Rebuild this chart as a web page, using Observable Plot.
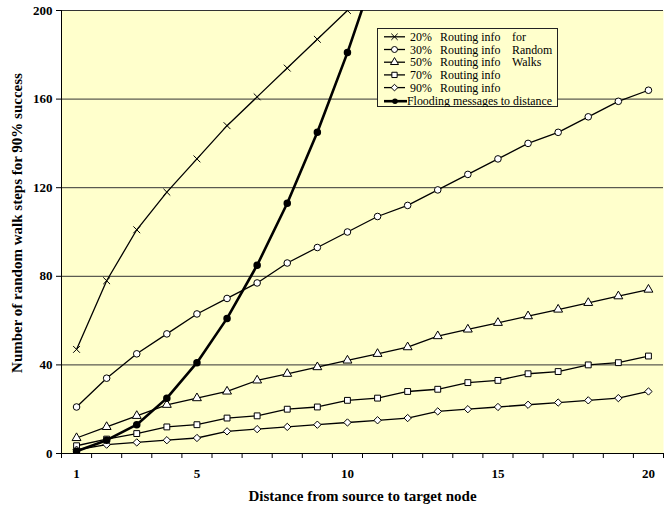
<!DOCTYPE html>
<html>
<head>
<meta charset="utf-8">
<script src="https://cdn.jsdelivr.net/npm/d3@7"></script>
<script src="https://cdn.jsdelivr.net/npm/@observablehq/plot@0.6"></script>
<style>
  body { margin: 0; background: #fff; }
  #wrap { position: relative; width: 665px; height: 506px; }
  #legend { position: absolute; left: 377px; top: 28px; }
</style>
</head>
<body>
<div id="wrap"></div>
<script>
// ---- data ----
const distances = d3.range(1, 21);
const routing20 = [47, 78, 101, 118, 133, 148, 161, 174, 187, 200];
const routing30 = [21, 34, 45, 54, 63, 70, 77, 86, 93, 100, 107, 112, 119, 126, 133, 140, 145, 152, 159, 164];
const routing50 = [7, 12, 17, 22, 25, 28, 33, 36, 39, 42, 45, 48, 53, 56, 59, 62, 65, 68, 71, 74];
const routing70 = [3.5, 6.5, 9, 12, 13, 16, 17, 20, 21, 24, 25, 28, 29, 32, 33, 36, 37, 40, 41, 44];
const routing90 = [1.7, 4, 5, 6, 7, 10, 11, 12, 13, 14, 15, 16, 19, 20, 21, 22, 23, 24, 25, 28];
const flooding = [1, 6, 13, 25, 41, 61, 85, 113, 145, 181, 221];

const yTicks = [0, 40, 80, 120, 160, 200];
const xTickLabels = [1, 5, 10, 15, 20];
const yTitle = "Number of random walk steps for 90% success";
const xTitle = "Distance from source to target node";
const legendPct = ["20%", "30%", "50%", "70%", "90%"];
const legendNote = ["for", "Random", "Walks", "", ""];
const legendFlood = "Flooding messages to distance";

const FONT = "'Liberation Serif', 'Times New Roman', serif";

const seriesDefs = [
  {values: routing20, symbol: "times"},
  {values: routing30, symbol: "circle"},
  {values: routing50, symbol: "triangle"},
  {values: routing70, symbol: "square"},
  {values: routing90, symbol: "diamond2"}
];
const toRows = vals => vals.map((v, i) => ({x: distances[i], y: v}));

const marks = [
  Plot.frame({fill: "#FFFFCC", stroke: null}),
  Plot.ruleY(yTicks.filter(d => d > 0), {stroke: "#333", strokeWidth: 1}),
  Plot.ruleX([0.5], {stroke: "#000"}),
  Plot.ruleY([0], {stroke: "#000"}),
  Plot.axisY({
    ticks: yTicks, tickSize: 5, tickPadding: 4,
    fontSize: 13, fontWeight: "bold", fontFamily: FONT, label: null
  }),
  Plot.text([yTitle], {
    frameAnchor: "left", textAnchor: "middle", rotate: -90, dx: -44, dy: -9,
    fontSize: 15, fontWeight: "bold", fontFamily: FONT, fill: "#000"
  }),
  Plot.axisX({ticks: d3.range(0.5, 21, 1), tickSize: 5, tickFormat: () => "", label: null}),
  Plot.axisX({
    ticks: xTickLabels, tickSize: 0, tickPadding: 15,
    fontSize: 13, fontWeight: "bold", fontFamily: FONT, label: null
  }),
  Plot.text([xTitle], {
    frameAnchor: "bottom", dy: 47,
    fontSize: 15, fontWeight: "bold", fontFamily: FONT, fill: "#000"
  })
];

for (const s of seriesDefs) {
  const rows = toRows(s.values);
  marks.push(Plot.line(rows, {x: "x", y: "y", stroke: "#000", strokeWidth: 1.3, clip: true}));
  marks.push(Plot.dot(rows, {
    x: "x", y: "y", symbol: s.symbol, r: s.symbol === "times" ? 3.2 : 3.3,
    fill: s.symbol === "times" ? "none" : "#fff", stroke: "#000", strokeWidth: 1, clip: true
  }));
}
const floodRows = toRows(flooding);
marks.push(Plot.line(floodRows, {x: "x", y: "y", stroke: "#000", strokeWidth: 2.6, clip: true}));
marks.push(Plot.dot(floodRows, {x: "x", y: "y", symbol: "circle", r: 3, fill: "#000", stroke: "#000", clip: true}));

const chart = Plot.plot({
  width: 665, height: 506,
  marginLeft: 61, marginRight: 2, marginTop: 10, marginBottom: 53,
  x: {domain: [0.5, 20.5]},
  y: {domain: [0, 200]},
  style: {fontFamily: FONT, background: "#fff", color: "#000"},
  marks
});
document.getElementById("wrap").appendChild(chart);

// ---- legend ----
const lw = 181, lh = 79;
const leg = d3.select("#wrap").append("svg")
  .attr("id", "legend").attr("width", lw).attr("height", lh)
  .attr("font-family", FONT).attr("font-size", 11.9);
leg.append("rect").attr("x", 0.5).attr("y", 0.5).attr("width", lw - 1).attr("height", lh - 1)
  .attr("fill", "#FFFFCC").attr("stroke", "#222");
const symMap = {times: d3.symbolTimes, circle: d3.symbolCircle, triangle: d3.symbolTriangle, square: d3.symbolSquare, diamond2: d3.symbolDiamond2};
seriesDefs.forEach((s, i) => {
  const cy = 8.8 + i * 12.7;
  const g = leg.append("g");
  g.append("line").attr("x1", 7).attr("x2", 28).attr("y1", cy).attr("y2", cy).attr("stroke", "#000").attr("stroke-width", 1.3);
  g.append("path").attr("d", d3.symbol(symMap[s.symbol], 28)())
    .attr("transform", `translate(17.5,${cy})`)
    .attr("fill", s.symbol === "times" ? "none" : "#fff").attr("stroke", "#000");
  g.append("text").attr("x", 33).attr("y", cy).attr("dy", "0.35em").text(legendPct[i]);
  g.append("text").attr("x", 63).attr("y", cy).attr("dy", "0.35em").text("Routing info");
  if (legendNote[i]) g.append("text").attr("x", 135).attr("y", cy).attr("dy", "0.35em").text(legendNote[i]);
});
{
  const cy = 73.2;
  leg.append("line").attr("x1", 7).attr("x2", 30).attr("y1", cy).attr("y2", cy).attr("stroke", "#000").attr("stroke-width", 2.6);
  leg.append("circle").attr("cx", 18).attr("cy", cy).attr("r", 2.8).attr("fill", "#000");
  leg.append("text").attr("x", 30).attr("y", cy).attr("dy", "0.35em").text(legendFlood);
}
</script>
</body>
</html>
